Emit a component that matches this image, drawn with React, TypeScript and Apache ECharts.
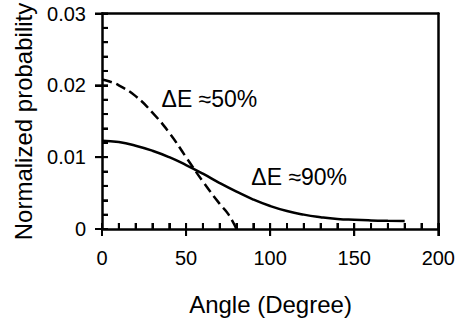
import React, { useEffect, useRef } from "react";
import * as echarts from "echarts";

const xTicks = { min: 0, max: 200, interval: 50 };
const yTicks = { min: 0, max: 0.03, interval: 0.01 };

const xMajorTicks = [0, 50, 100, 150, 200];
const xMinorTicks = [10, 20, 30, 40, 60, 70, 80, 90, 110, 120, 130, 140, 160, 170, 180, 190];
const yMajorTicks = [0, 0.01, 0.02, 0.03];
const yMinorTicks = [0.002, 0.004, 0.006, 0.008, 0.012, 0.014, 0.016, 0.018, 0.022, 0.024, 0.026, 0.028];

const solidX = [0, 10, 20, 30, 40, 50, 60, 70, 80, 90, 100, 110, 120, 130, 140, 150, 160, 170, 180];
const solidY = [0.0123, 0.0121, 0.0116, 0.0109, 0.01, 0.0089, 0.0077, 0.0064, 0.0052, 0.0041, 0.0032, 0.0025, 0.002, 0.00165, 0.0014, 0.00128, 0.0012, 0.00115, 0.00112];

const dashX = [0, 5, 10, 20, 30, 40, 50, 60, 70, 75, 80];
const dashY = [0.0208, 0.0205, 0.02, 0.0185, 0.0162, 0.0134, 0.01, 0.0066, 0.0035, 0.0021, 0.0];

const labelTexts = ["ΔE ≈50%", "ΔE ≈90%"];
const labelX = [35.4, 88.8];
const labelY = [0.0181, 0.0072];

const xTitle = "Angle (Degree)";
const yTitle = "Normalized probability";

const FONT = "'Liberation Sans', Arial, sans-serif";

export default function App() {
  const ref = useRef<HTMLDivElement>(null);
  useEffect(() => {
    if (!ref.current) return;
    const chart = echarts.init(ref.current, undefined, { renderer: "svg" });
    const black = "#000";
    const tickColor = "#010101";
    const tickData: number[][] = [
      ...xMajorTicks.map((v) => [0, v, 0]),
      ...xMinorTicks.map((v) => [0, v, 1]),
      ...yMajorTicks.map((v) => [1, v, 0]),
      ...yMinorTicks.map((v) => [1, v, 1]),
    ];
    chart.setOption({
      animation: false,
      grid: { left: 102, right: 18, top: 13.5, bottom: 97 },
      xAxis: [
        {
          type: "value",
          ...xTicks,
          position: "bottom",
          splitLine: { show: false },
          axisLine: { show: true, onZero: false, lineStyle: { color: black, width: 2.5 } },
          axisTick: { show: true, length: 7, lineStyle: { color: tickColor, width: 2 } },
          axisLabel: { color: black, fontSize: 20, margin: 19, fontFamily: FONT },
        },
        {
          type: "value",
          ...xTicks,
          position: "bottom",
          splitLine: { show: false },
          axisLine: { show: false, onZero: false },
          axisTick: { show: true, inside: true, length: 6, lineStyle: { color: tickColor, width: 2 } },
          minorTick: { show: true, splitNumber: 5, length: 6, lineStyle: { color: tickColor, width: 2 } },
          axisLabel: { show: false },
        },
        {
          type: "value",
          ...xTicks,
          position: "top",
          splitLine: { show: false },
          axisLine: { show: true, onZero: false, lineStyle: { color: black, width: 2.5 } },
          axisTick: { show: false },
          axisLabel: { show: false },
        },
      ],
      yAxis: [
        {
          type: "value",
          ...yTicks,
          position: "left",
          splitLine: { show: false },
          axisLine: { show: true, onZero: false, lineStyle: { color: black, width: 2.5 } },
          axisTick: { show: true, length: 7, lineStyle: { color: tickColor, width: 2 } },
          axisLabel: { color: black, fontSize: 20, margin: 16, fontFamily: FONT },
        },
        {
          type: "value",
          ...yTicks,
          position: "left",
          splitLine: { show: false },
          axisLine: { show: false, onZero: false },
          axisTick: { show: true, inside: true, length: 6, lineStyle: { color: tickColor, width: 2 } },
          minorTick: { show: true, splitNumber: 5, length: 6, lineStyle: { color: tickColor, width: 2 } },
          axisLabel: { show: false },
        },
        {
          type: "value",
          ...yTicks,
          position: "right",
          splitLine: { show: false },
          axisLine: { show: true, onZero: false, lineStyle: { color: black, width: 2.5 } },
          axisTick: { show: false },
          axisLabel: { show: false },
        },
      ],
      series: [
        {
          type: "line",
          xAxisIndex: 0,
          yAxisIndex: 0,
          data: solidX.map((x, i) => [x, solidY[i]]),
          showSymbol: false,
          smooth: true,
          lineStyle: { color: black, width: 2.5 },
        },
        {
          type: "line",
          xAxisIndex: 0,
          yAxisIndex: 0,
          data: dashX.map((x, i) => [x, dashY[i]]),
          showSymbol: false,
          smooth: true,
          lineStyle: { color: black, width: 2.5, type: "dashed", dashOffset: 0 },
        },
        {
          type: "custom",
          xAxisIndex: 0,
          yAxisIndex: 0,
          clip: false,
          silent: true,
          z: 5,
          data: tickData,
          renderItem: (params: any, api: any) => {
            const axis = api.value(0);
            const v = api.value(1);
            const kind = api.value(2);
            const inLen = 6;
            const outLen = kind === 0 ? 7 : 0;
            let shape;
            if (axis === 0) {
              const p = api.coord([v, yTicks.min]);
              shape = { x1: p[0], y1: p[1] + outLen, x2: p[0], y2: p[1] - inLen };
            } else {
              const p = api.coord([xTicks.min, v]);
              shape = { x1: p[0] - outLen, y1: p[1], x2: p[0] + inLen, y2: p[1] };
            }
            return { type: "line", shape, style: { stroke: tickColor, lineWidth: 2 } };
          },
        },
      ],
    });
    const annotations = labelTexts.map((t, i) => {
      const p = chart.convertToPixel({ xAxisIndex: 0, yAxisIndex: 0 }, [labelX[i], labelY[i]]) as number[];
      return {
        id: "annot" + i,
        type: "text",
        x: p[0],
        y: p[1],
        rotation: 0,
        silent: true,
        style: { text: t, fill: black, font: `23px ${FONT}`, align: "left", verticalAlign: "middle" },
      };
    });
    chart.setOption({
      graphic: [
        {
          id: "xTitle",
          type: "text",
          x: 270.5,
          y: 304,
          rotation: 0,
          silent: true,
          style: { text: xTitle, fill: black, font: `24px ${FONT}`, align: "center", verticalAlign: "middle" },
        },
        {
          id: "yTitle",
          type: "text",
          x: 23,
          y: 121.5,
          rotation: Math.PI / 2,
          silent: true,
          style: { text: yTitle, fill: black, font: `24px ${FONT}`, align: "center", verticalAlign: "middle" },
        },
        ...annotations,
      ],
    });
    return () => chart.dispose();
  }, []);
  return (
    <div
      ref={ref}
      style={{ position: "fixed", left: 0, top: 0, width: 458, height: 326, background: "#fff" }}
    />
  );
}
